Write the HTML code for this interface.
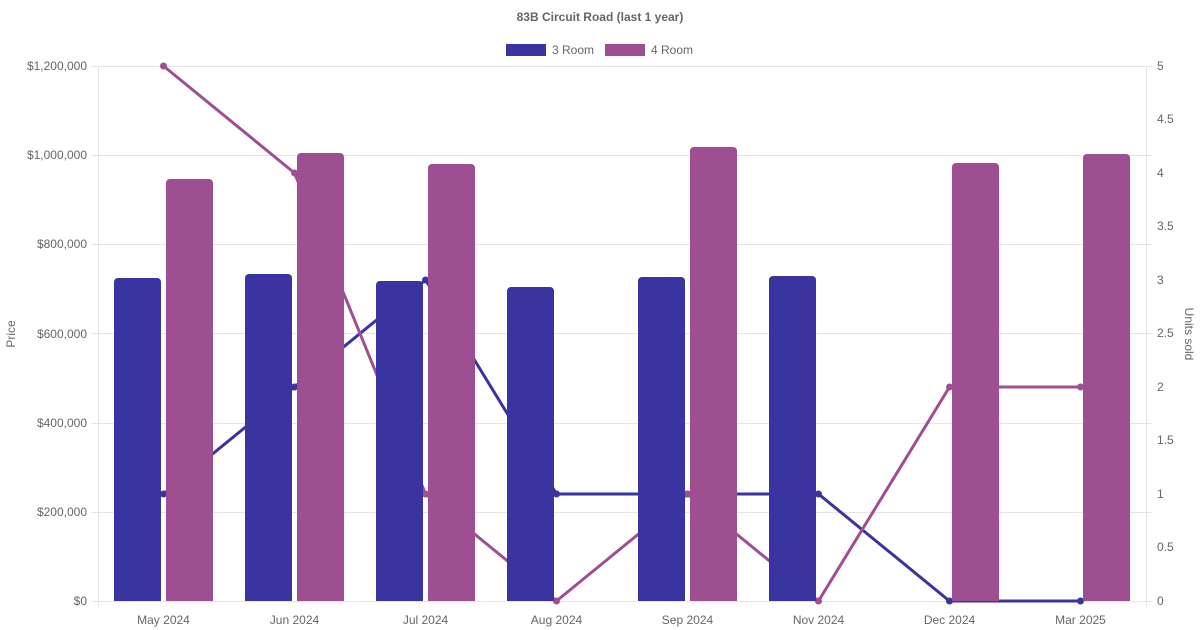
<!DOCTYPE html>
<html><head><meta charset="utf-8"><style>body{margin:0;background:#fff}svg{display:block;font-family:"Liberation Sans",sans-serif}</style></head><body>
<svg width="1200" height="630" viewBox="0 0 1200 630">
<text x="600" y="21" text-anchor="middle" font-size="12" font-weight="bold" fill="#666">83B Circuit Road (last 1 year)</text>
<rect x="506" y="44" width="40" height="12" fill="#3a33a0"/><text x="552" y="54" font-size="12" fill="#666">3 Room</text>
<rect x="605" y="44" width="40" height="12" fill="#9e4f92"/><text x="651" y="54" font-size="12" fill="#666">4 Room</text>
<g stroke="#e5e5e5" stroke-width="1">
<line x1="92" x2="1152" y1="66.5" y2="66.5"/><line x1="92" x2="1152" y1="155.5" y2="155.5"/><line x1="92" x2="1152" y1="244.5" y2="244.5"/><line x1="92" x2="1152" y1="333.5" y2="333.5"/><line x1="92" x2="1152" y1="423.5" y2="423.5"/><line x1="92" x2="1152" y1="512.5" y2="512.5"/><line x1="92" x2="1152" y1="601.5" y2="601.5"/>
<line x1="98.5" x2="98.5" y1="66" y2="607"/><line x1="1146.5" x2="1146.5" y1="66" y2="607"/>
</g>
<g font-size="12" fill="#666" text-anchor="end">
<text x="87" y="70">$1,200,000</text><text x="87" y="159">$1,000,000</text><text x="87" y="248">$800,000</text><text x="87" y="338">$600,000</text><text x="87" y="427">$400,000</text><text x="87" y="516">$200,000</text><text x="87" y="605">$0</text>
</g>
<g font-size="12" fill="#666">
<text x="1157" y="70">5</text><text x="1157" y="123">4.5</text><text x="1157" y="177">4</text><text x="1157" y="230">3.5</text><text x="1157" y="284">3</text><text x="1157" y="337">2.5</text><text x="1157" y="391">2</text><text x="1157" y="444">1.5</text><text x="1157" y="498">1</text><text x="1157" y="551">0.5</text><text x="1157" y="605">0</text>
</g>
<g font-size="12" fill="#666" text-anchor="middle">
<text x="163.5" y="624">May 2024</text><text x="294.5" y="624">Jun 2024</text><text x="425.5" y="624">Jul 2024</text><text x="556.5" y="624">Aug 2024</text><text x="687.5" y="624">Sep 2024</text><text x="818.5" y="624">Nov 2024</text><text x="949.5" y="624">Dec 2024</text><text x="1080.5" y="624">Mar 2025</text>
</g>
<text transform="translate(15,334) rotate(-90)" text-anchor="middle" font-size="12" fill="#666">Price</text>
<text transform="translate(1185,334) rotate(90)" text-anchor="middle" font-size="12" fill="#666">Units sold</text>
<polyline fill="none" stroke="#3a33a0" stroke-width="3" points="163.5,494 294.5,387 425.5,280 556.5,494 687.5,494 818.5,494 949.5,601 1080.5,601"/>
<polyline fill="none" stroke="#9e4f92" stroke-width="3" points="163.5,66 294.5,173 425.5,494 556.5,601 687.5,494 818.5,601 949.5,387 1080.5,387"/>
<g fill="#3a33a0">
<circle cx="163.5" cy="494" r="3.5"/><circle cx="294.5" cy="387" r="3.5"/><circle cx="425.5" cy="280" r="3.5"/><circle cx="556.5" cy="494" r="3.5"/><circle cx="687.5" cy="494" r="3.5"/><circle cx="818.5" cy="494" r="3.5"/><circle cx="949.5" cy="601" r="3.5"/><circle cx="1080.5" cy="601" r="3.5"/>
</g>
<g fill="#9e4f92">
<circle cx="163.5" cy="66" r="3.5"/><circle cx="294.5" cy="173" r="3.5"/><circle cx="425.5" cy="494" r="3.5"/><circle cx="556.5" cy="601" r="3.5"/><circle cx="687.5" cy="494" r="3.5"/><circle cx="818.5" cy="601" r="3.5"/><circle cx="949.5" cy="387" r="3.5"/><circle cx="1080.5" cy="387" r="3.5"/>
</g>
<g fill="#3a33a0">
<path d="M114,601V282a4,4 0 0 1 4,-4h39a4,4 0 0 1 4,4V601z"/>
<path d="M245,601V278a4,4 0 0 1 4,-4h39a4,4 0 0 1 4,4V601z"/>
<path d="M376,601V285a4,4 0 0 1 4,-4h39a4,4 0 0 1 4,4V601z"/>
<path d="M507,601V291a4,4 0 0 1 4,-4h39a4,4 0 0 1 4,4V601z"/>
<path d="M638,601V281a4,4 0 0 1 4,-4h39a4,4 0 0 1 4,4V601z"/>
<path d="M769,601V280a4,4 0 0 1 4,-4h39a4,4 0 0 1 4,4V601z"/>
</g>
<g fill="#9e4f92">
<path d="M166,601V183a4,4 0 0 1 4,-4h39a4,4 0 0 1 4,4V601z"/>
<path d="M297,601V157a4,4 0 0 1 4,-4h39a4,4 0 0 1 4,4V601z"/>
<path d="M428,601V168a4,4 0 0 1 4,-4h39a4,4 0 0 1 4,4V601z"/>
<path d="M690,601V151a4,4 0 0 1 4,-4h39a4,4 0 0 1 4,4V601z"/>
<path d="M952,601V167a4,4 0 0 1 4,-4h39a4,4 0 0 1 4,4V601z"/>
<path d="M1083,601V158a4,4 0 0 1 4,-4h39a4,4 0 0 1 4,4V601z"/>
</g>
</svg>
</body></html>
